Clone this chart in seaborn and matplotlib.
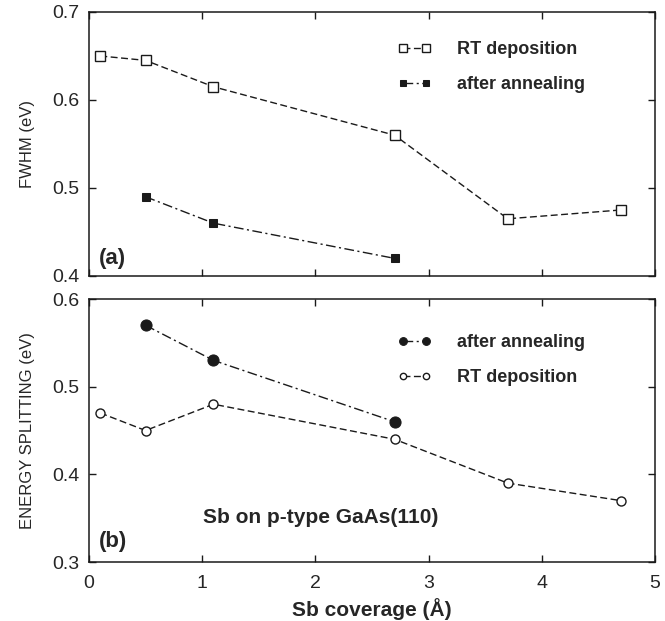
import matplotlib
matplotlib.use("Agg")
import matplotlib.pyplot as plt
import seaborn as sns

# ---- data ----
cov_rt = [0.1, 0.5, 1.1, 2.7, 3.7, 4.7]
cov_ann = [0.5, 1.1, 2.7]
fwhm_rt = [0.650, 0.645, 0.615, 0.560, 0.465, 0.475]
fwhm_ann = [0.490, 0.460, 0.420]
split_ann = [0.570, 0.530, 0.460]
split_rt = [0.470, 0.450, 0.480, 0.440, 0.390, 0.370]
xticks = [0, 1, 2, 3, 4, 5]
yticks_a = [0.4, 0.5, 0.6, 0.7]
yticks_b = [0.3, 0.4, 0.5, 0.6]

sns.set_theme(style="ticks")
plt.rcParams['font.family'] = ['Liberation Sans', 'DejaVu Sans']

fig = plt.figure(figsize=(6.65, 6.21), dpi=100)
axa = fig.add_axes([0.1338, 0.5556, 0.851, 0.4251])
axb = fig.add_axes([0.1338, 0.0950, 0.851, 0.4235])

dash_rt = (5, 2.5)
dash_ann = (7, 2.5, 1.5, 2.5)

sns.lineplot(x=cov_rt, y=fwhm_rt, ax=axa, color='k', lw=1.0,
             marker='s', ms=7.5, mfc='white', mec='k', mew=1.0, label='RT deposition')
axa.lines[-1].set_dashes(dash_rt)
sns.lineplot(x=cov_ann, y=fwhm_ann, ax=axa, color='k', lw=1.0,
             marker='s', ms=6, mfc='k', mec='k', label='after annealing')
axa.lines[-1].set_dashes(dash_ann)

sns.lineplot(x=cov_ann, y=split_ann, ax=axb, color='k', lw=1.0,
             marker='o', ms=8, mfc='k', mec='k', label='after annealing')
axb.lines[-1].set_dashes(dash_ann)
sns.lineplot(x=cov_rt, y=split_rt, ax=axb, color='k', lw=1.0,
             marker='o', ms=6.5, mfc='white', mec='k', mew=1.0, label='RT deposition')
axb.lines[-1].set_dashes(dash_rt)

for ax, yt, lim, ly in [(axa, yticks_a, (0.4, 0.7), 0.95), (axb, yticks_b, (0.3, 0.6), 0.929)]:
    ax.set_xlim(0, 5)
    ax.set_ylim(*lim)
    ax.set_xticks(xticks)
    ax.set_yticks(yt)
    ax.tick_params(direction='in', top=True, right=True, length=5, width=1,
                   labelsize=14, pad=7, color='k')
    ax.tick_params(axis='x', pad=9)
    for s in ax.spines.values():
        s.set_linewidth(1.1)
        s.set_color('k')
    ax.legend(loc='upper left', bbox_to_anchor=(0.517, ly), frameon=False,
              numpoints=2, markerscale=0.7, handlelength=1.85, handletextpad=1.45,
              labelspacing=1.0, borderpad=0.4,
              prop={'weight': 'bold', 'size': 13})

axa.set_xticklabels([])
axa.set_yticklabels([f"{v:.1f}" for v in yticks_a])
axb.set_yticklabels([f"{v:.1f}" for v in yticks_b])
axb.set_xticklabels([str(v) for v in xticks])

axa.set_ylabel("FWHM (eV)", fontsize=12, labelpad=12)
axb.set_ylabel("ENERGY SPLITTING (eV)", fontsize=12, labelpad=12)
axb.set_xlabel("Sb coverage (Å)", fontsize=15, fontweight='bold', labelpad=5)

axa.text(0.09, 0.42, "(a)", fontsize=16, fontweight='bold', va='center')
axb.text(0.09, 0.323, "(b)", fontsize=16, fontweight='bold', va='center')
axb.text(1.01, 0.351, "Sb on p-type GaAs(110)", fontsize=15, fontweight='bold', va='center')

fig.savefig("out.png", dpi=100)
